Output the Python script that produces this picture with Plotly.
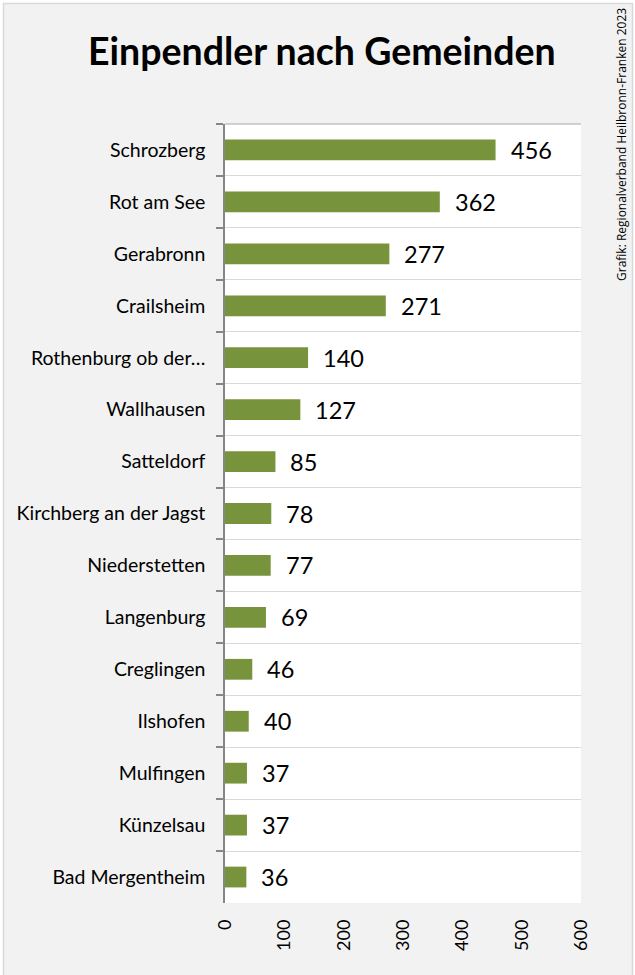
import plotly.graph_objects as go

categories = ["Schrozberg", "Rot am See", "Gerabronn", "Crailsheim", "Rothenburg ob der…",
              "Wallhausen", "Satteldorf", "Kirchberg an der Jagst", "Niederstetten",
              "Langenburg", "Creglingen", "Ilshofen", "Mulfingen", "Künzelsau", "Bad Mergentheim"]
values = [456, 362, 277, 271, 140, 127, 85, 78, 77, 69, 46, 40, 37, 37, 36]
x_ticks = [0, 100, 200, 300, 400, 500, 600]

W, H = 635, 975
L, R, T, B = 225, 635 - 581, 124, 975 - 903
pw, ph = W - L - R, H - T - B

def px(x):
    return (x - L) / pw

def py(y):
    return (H - B - y) / ph

fig = go.Figure()
fig.add_trace(go.Bar(
    x=values, y=categories, orientation="h",
    marker=dict(color="#77933C", line=dict(width=0)),
    width=0.4, hoverinfo="skip",
))

annotations = []
for c, v in zip(categories, values):
    annotations.append(dict(x=v, y=c, xref="x", yref="y", text=str(v), showarrow=False,
                            xanchor="left", yanchor="middle", xshift=13,
                            font=dict(family="Lato", size=23.5, color="#000000")))
annotations.append(dict(x=px(322), y=py(50), xref="paper", yref="paper",
                        text="<b>Einpendler nach Gemeinden</b>", showarrow=False,
                        xanchor="center", yanchor="middle",
                        font=dict(family="Lato", size=37.5, color="#000000")))
annotations.append(dict(x=px(622), y=py(145), xref="paper", yref="paper",
                        text="Grafik: Regionalverband Heilbronn-Franken 2023", showarrow=False,
                        textangle=-90, xanchor="center", yanchor="middle",
                        font=dict(family="Open Sans", size=12, color="#000000")))

shapes = [
    dict(type="rect", xref="paper", yref="paper", x0=px(3.5), x1=px(632.5), y0=py(990), y1=py(3.5),
         fillcolor="#F2F2F2", line=dict(color="#D9D9D9", width=1.5), layer="below"),
    dict(type="rect", xref="paper", yref="paper", x0=0, x1=1, y0=0, y1=1,
         fillcolor="#FFFFFF", line=dict(width=0), layer="below"),
    dict(type="line", xref="paper", yref="paper", x0=0, x1=1, y0=1, y1=1,
         line=dict(color="#A6A6A6", width=1.2)),
]

fig.update_layout(
    width=W, height=H,
    margin=dict(l=L, r=R, t=T, b=B, pad=0),
    paper_bgcolor="#FFFFFF", plot_bgcolor="#FFFFFF",
    showlegend=False, bargap=0.6,
    annotations=annotations, shapes=shapes,
    xaxis=dict(range=[0, 600], tickvals=x_ticks, ticktext=[str(t) for t in x_ticks],
               tickangle=-90, showgrid=False, zeroline=False, showline=False,
               ticks="", ticklabelstandoff=12,
               tickfont=dict(family="Lato", size=18, color="#000000"), fixedrange=True),
    yaxis=dict(type="category", autorange="reversed", tickson="boundaries",
               showgrid=True, gridcolor="#D9D9D9", gridwidth=1.2,
               showline=True, linecolor="#868686", linewidth=1.5,
               ticks="outside", ticklen=7, tickcolor="#868686", tickwidth=1.5,
               ticklabelstandoff=14,
               tickfont=dict(family="Lato", size=19.5, color="#000000"), fixedrange=True),
)

fig.write_html("out.html")
